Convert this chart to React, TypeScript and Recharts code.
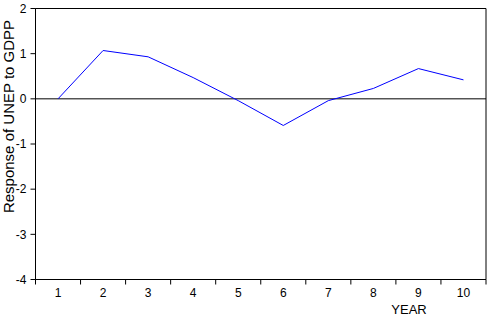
import { LineChart, Line, XAxis, YAxis, ReferenceLine, ReferenceArea, Label } from "recharts";

const years = [1, 2, 3, 4, 5, 6, 7, 8, 9, 10];
const response = [0, 1.07, 0.93, 0.47, -0.04, -0.59, -0.04, 0.23, 0.67, 0.42];
const yTicks = [-4, -3, -2, -1, 0, 1, 2];

const data = years.map((year, i) => ({ year, response: response[i] }));

// year labels sit in the middle, tick marks sit on the half steps
const xTicks = [...years.flatMap((y) => [y - 0.5, y]), years[years.length - 1] + 0.5];
const xDomain = [years[0] - 0.5, years[years.length - 1] + 0.5];

const FONT = "'Liberation Sans', Arial, sans-serif";

function YearTick(props: any) {
  const { x, y, payload } = props;
  const v = payload.value;
  if (Number.isInteger(v)) {
    return (
      <text x={x} y={y + 17} textAnchor="middle" fontSize={12} fontFamily={FONT} fill="#000">
        {v}
      </text>
    );
  }
  return <line x1={x} y1={y} x2={x} y2={y + 5} stroke="#000" />;
}

function YearLabel(props: any) {
  const vb = props.viewBox;
  return (
    <text x={vb.x + vb.width - 77} y={vb.y + vb.height - 3} textAnchor="middle" fontSize={13} fontFamily={FONT} fill="#000">
      YEAR
    </text>
  );
}

function ResponseLabel(props: any) {
  const vb = props.viewBox;
  const x = 14;
  const y = vb.y + 108;
  return (
    <text x={x} y={y} transform={`rotate(-90, ${x}, ${y})`} textAnchor="middle" fontSize={15} fontFamily={FONT} fill="#000">
      Response of UNEP to GDPP
    </text>
  );
}

export default function App() {
  return (
    <div style={{ position: "absolute", left: 0, top: 0, background: "#fff" }}>
      <LineChart width={488} height={317} data={data} margin={{ top: 8.5, right: 2, left: 0.5, bottom: 0 }}>
        <XAxis
          dataKey="year"
          type="number"
          domain={xDomain}
          ticks={xTicks}
          interval={0}
          tickLine={false}
          tickSize={0}
          tickMargin={0}
          tick={<YearTick />}
          axisLine={{ stroke: "#000" }}
          height={37.5}
        >
          <Label content={<YearLabel />} />
        </XAxis>
        <YAxis
          type="number"
          domain={[-4, 2]}
          ticks={yTicks}
          interval={0}
          width={35}
          tickSize={5}
          tickMargin={4}
          tick={{ fontSize: 12, fill: "#000", fontFamily: FONT }}
          axisLine={{ stroke: "#000" }}
          tickLine={{ stroke: "#000" }}
        >
          <Label content={<ResponseLabel />} />
        </YAxis>
        <ReferenceArea x1={xDomain[0]} x2={xDomain[1]} y1={-4} y2={2} stroke="#000" fill="none" fillOpacity={0} />
        <ReferenceLine y={0} stroke="#000" />
        <Line
          type="linear"
          dataKey="response"
          stroke="#0000ff"
          strokeWidth={1}
          dot={false}
          isAnimationActive={false}
        />
      </LineChart>
    </div>
  );
}
